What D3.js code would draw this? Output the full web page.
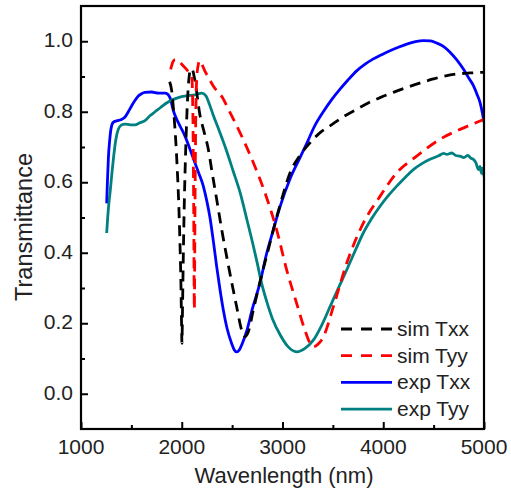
<!DOCTYPE html>
<html>
<head>
<meta charset="utf-8">
<script src="https://cdn.jsdelivr.net/npm/d3@7"></script>
<style>
  body { margin: 0; background: white; }
  text { font-family: "Liberation Sans", Arial, sans-serif; fill: #222; }
</style>
</head>
<body>
<svg id="chart"></svg>
<script>
// data: [wavelength nm, transmittance]
var simTxx = [[1880,0.885],[1900,0.86],[1920,0.80],[1940,0.72],[1955,0.64],[1970,0.54],[1982,0.43],[1992,0.31],[1998,0.20],[2002,0.143],
  [2008,0.25],[2016,0.40],[2026,0.55],[2040,0.70],[2055,0.82],[2070,0.89],[2085,0.918],[2100,0.922],[2130,0.89],[2181,0.79],[2220,0.745],
  [2264,0.693],[2300,0.63],[2347,0.551],[2400,0.46],[2446,0.389],[2500,0.31],[2545,0.247],[2595,0.18],[2628,0.162],[2660,0.175],[2710,0.237],
  [2777,0.318],[2860,0.41],[2909,0.465],[2990,0.55],[3075,0.627],[3170,0.675],[3273,0.712],[3370,0.74],[3472,0.76],[3600,0.785],[3736,0.807],
  [3850,0.825],[3968,0.84],[4100,0.855],[4233,0.869],[4370,0.882],[4497,0.893],[4620,0.902],[4729,0.907],[4860,0.91],[5000,0.912]]

var simTyy = [[1890,0.92],[1910,0.94],[1935,0.948],[1965,0.945],[2000,0.935],[2032,0.925],[2070,0.912],[2099,0.90],[2110,0.80],[2118,0.55],
  [2125,0.24],[2132,0.55],[2140,0.80],[2150,0.90],[2165,0.935],[2180,0.945],[2200,0.935],[2230,0.915],[2264,0.898],[2313,0.873],[2413,0.836],
  [2446,0.817],[2578,0.741],[2710,0.656],[2843,0.556],[2942,0.465],[3042,0.351],[3141,0.256],[3223,0.18],[3270,0.145],[3306,0.133],[3350,0.14],
  [3405,0.161],[3505,0.247],[3637,0.37],[3802,0.484],[3968,0.56],[4134,0.627],[4332,0.674],[4563,0.722],[4762,0.75],[4961,0.774],[5000,0.779]]

var expTxx = [[1255,0.54],[1262,0.60],[1272,0.67],[1285,0.72],[1300,0.755],[1320,0.77],[1354,0.774],[1400,0.778],[1437,0.785],[1470,0.80],
  [1503,0.817],[1535,0.832],[1569,0.845],[1600,0.851],[1635,0.855],[1700,0.856],[1770,0.853],[1834,0.853],[1860,0.85],[1883,0.84],[1920,0.80],
  [1966,0.769],[2000,0.75],[2032,0.731],[2080,0.695],[2131,0.655],[2170,0.625],[2214,0.589],[2250,0.545],[2280,0.50],[2315,0.43],[2347,0.36],
  [2380,0.295],[2413,0.237],[2450,0.185],[2496,0.142],[2520,0.125],[2545,0.119],[2570,0.124],[2600,0.142],[2645,0.178],[2700,0.24],[2777,0.315],
  [2840,0.395],[2909,0.465],[2975,0.53],[3075,0.61],[3174,0.67],[3240,0.71],[3320,0.76],[3405,0.80],[3490,0.835],[3571,0.864],[3650,0.89],
  [3736,0.916],[3820,0.935],[3902,0.95],[3985,0.962],[4067,0.973],[4150,0.983],[4233,0.992],[4320,0.999],[4398,1.002],[4470,1.001],[4530,0.995],
  [4600,0.985],[4663,0.969],[4730,0.947],[4795,0.921],[4850,0.895],[4895,0.874],[4930,0.85],[4961,0.826],[4985,0.795],[5000,0.77]]

var expTyy = [[1255,0.456],[1265,0.50],[1280,0.55],[1288,0.57],[1305,0.62],[1321,0.665],[1345,0.72],[1370,0.75],[1400,0.762],[1437,0.765],
  [1490,0.763],[1536,0.763],[1580,0.768],[1635,0.775],[1690,0.79],[1735,0.80],[1790,0.812],[1834,0.822],[1900,0.833],[1966,0.84],[2050,0.845],
  [2131,0.848],[2198,0.853],[2240,0.845],[2270,0.825],[2313,0.79],[2380,0.74],[2446,0.688],[2510,0.632],[2578,0.572],[2650,0.49],[2710,0.42],
  [2750,0.37],[2793,0.313],[2843,0.262],[2900,0.213],[2975,0.168],[3050,0.135],[3141,0.119],[3220,0.128],[3306,0.152],[3390,0.195],[3472,0.247],
  [3555,0.30],[3637,0.351],[3720,0.405],[3802,0.456],[3885,0.497],[3968,0.532],[4050,0.562],[4134,0.589],[4215,0.613],[4299,0.636],[4380,0.652],
  [4464,0.665],[4550,0.675],[4600,0.682],[4630,0.679],[4680,0.683],[4720,0.676],[4762,0.674],[4800,0.67],[4840,0.676],[4870,0.668],[4895,0.665],
  [4920,0.655],[4944,0.636],[4960,0.645],[4975,0.625],[4985,0.64],[5000,0.617]]

var seriesNames = ['sim Txx','sim Tyy','exp Txx','exp Tyy']
var seriesColors = ['black','#ff0000','#0000ff','#008080']
var seriesDashed = [true,true,false,false]
var xTicks = [1000,2000,3000,4000,5000]
var xMinor = [1500,2500,3500,4500]
var yTicks = [0.0,0.2,0.4,0.6,0.8,1.0]
var yMinor = [0.1,0.3,0.5,0.7,0.9]

var width = 511, height = 493
var plot = {left:81, right:484, top:6, bottom:429}

var svg = d3.select('#chart').attr('width',width).attr('height',height)

var x = d3.scaleLinear().domain([1000,5000]).range([plot.left,plot.right])
var y = d3.scaleLinear().domain([-0.1,1.1]).range([plot.bottom,plot.top])

svg.append('defs').append('clipPath').attr('id','clip')
  .append('rect')
  .attr('x',plot.left).attr('y',plot.top)
  .attr('width',plot.right-plot.left).attr('height',plot.bottom-plot.top)

// axes, ticks pointing inward
var xAxis = d3.axisTop(x).tickValues(xTicks).tickSize(7).tickFormat('')
var xAxisMinor = d3.axisTop(x).tickValues(xMinor).tickSize(4).tickFormat('')
var yAxis = d3.axisRight(y).tickValues(yTicks).tickSize(7).tickFormat('')
var yAxisMinor = d3.axisRight(y).tickValues(yMinor).tickSize(4).tickFormat('')

svg.append('g').attr('transform','translate(0,'+plot.bottom+')').call(xAxis)
svg.append('g').attr('transform','translate(0,'+plot.bottom+')').call(xAxisMinor)
svg.append('g').attr('transform','translate('+plot.left+',0)').call(yAxis)
svg.append('g').attr('transform','translate('+plot.left+',0)').call(yAxisMinor)
svg.selectAll('.domain').remove()
svg.selectAll('.tick line').attr('stroke','black').attr('stroke-width',2)

svg.append('g').selectAll('text').data(xTicks).enter().append('text')
  .attr('x',function(d){return x(d)})
  .attr('y',plot.bottom+25)
  .attr('text-anchor','middle')
  .style('font-size','21px')
  .text(function(d){return d})

svg.append('g').selectAll('text').data(yTicks).enter().append('text')
  .attr('x',plot.left-8)
  .attr('y',function(d){return y(d)+6})
  .attr('text-anchor','end')
  .style('font-size','21px')
  .text(function(d){return d.toFixed(1)})

svg.append('text')
  .attr('x',284).attr('y',483)
  .attr('text-anchor','middle')
  .style('font-size','22px')
  .text('Wavenlength (nm)')

svg.append('text')
  .attr('transform','translate(32,227) rotate(-90)')
  .attr('text-anchor','middle')
  .style('font-size','23.5px')
  .text('Transmittance')

// curves
var line = d3.line()
  .x(function(d){return x(d[0])})
  .y(function(d){return y(d[1])})
  .curve(d3.curveMonotoneX)

var allSeries = [simTxx,simTyy,expTxx,expTyy]
var drawOrder = [2,3,0,1]

svg.append('g').attr('clip-path','url(#clip)')
  .selectAll('path').data(drawOrder).enter().append('path')
  .attr('d',function(i){return line(allSeries[i])})
  .attr('fill','none')
  .attr('stroke',function(i){return seriesColors[i]})
  .attr('stroke-width',2.8)
  .attr('stroke-dasharray',function(i){return seriesDashed[i] ? '11,7' : null})

// frame
svg.append('rect')
  .attr('x',plot.left).attr('y',plot.top)
  .attr('width',plot.right-plot.left).attr('height',plot.bottom-plot.top)
  .attr('fill','none').attr('stroke','black').attr('stroke-width',2.2)

// legend
var legend = svg.append('g').selectAll('g').data(seriesNames).enter().append('g')
  .attr('transform',function(d,i){return 'translate(341,'+(329+i*26.7)+')'})

legend.append('line')
  .attr('x1',0).attr('x2',51).attr('y1',0).attr('y2',0)
  .attr('stroke',function(d,i){return seriesColors[i]})
  .attr('stroke-width',2.8)
  .attr('stroke-dasharray',function(d,i){return seriesDashed[i] ? '11,9' : null})

legend.append('text')
  .attr('x',56).attr('y',7)
  .style('font-size','21px')
  .text(function(d){return d})
</script>
</body>
</html>
